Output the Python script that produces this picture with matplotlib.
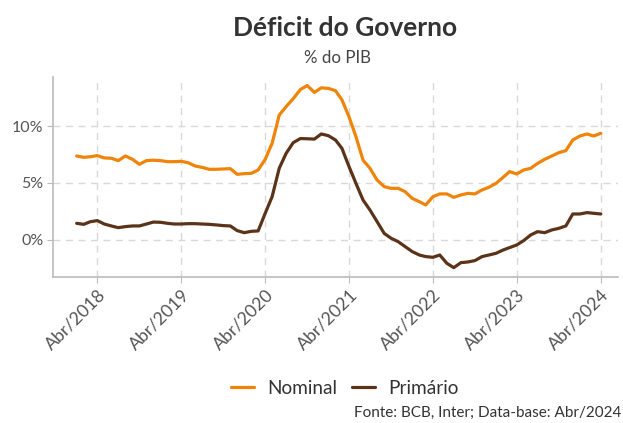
import matplotlib
matplotlib.use("Agg")
import matplotlib.pyplot as plt
import pandas as pd

plt.rcParams['font.family'] = ['Lato', 'DejaVu Sans']

months = pd.date_range("2018-01-01", "2024-04-01", freq="MS")

nominal = [7.37, 7.25, 7.30, 7.40, 7.20, 7.17, 6.96, 7.37, 7.08, 6.64, 6.96, 7.00,
           6.96, 6.87, 6.87, 6.90, 6.78, 6.49, 6.37, 6.20, 6.20, 6.23, 6.26, 5.76,
           5.82, 5.85, 6.14, 7.08, 8.48, 10.96, 11.70, 12.40, 13.20, 13.55, 12.95, 13.35,
           13.30, 13.10, 12.30, 10.80, 9.06, 7.00, 6.29, 5.26, 4.68, 4.53, 4.53, 4.24,
           3.65, 3.36, 3.07, 3.80, 4.04, 4.04, 3.74, 3.95, 4.09, 4.04, 4.39, 4.62,
           4.97, 5.50, 6.00, 5.79, 6.14, 6.29, 6.72, 7.08, 7.37, 7.66, 7.84, 8.77,
           9.12, 9.30, 9.12, 9.36]

primario = [1.46, 1.37, 1.60, 1.70, 1.40, 1.23, 1.08, 1.17, 1.23, 1.23, 1.40, 1.57,
            1.55, 1.46, 1.40, 1.40, 1.43, 1.43, 1.40, 1.37, 1.32, 1.26, 1.23, 0.82,
            0.64, 0.76, 0.79, 2.34, 3.80, 6.29, 7.60, 8.54, 8.90, 8.88, 8.85, 9.30,
            9.15, 8.77, 8.04, 6.43, 4.97, 3.50, 2.63, 1.61, 0.58, 0.15, -0.15, -0.58,
            -1.02, -1.32, -1.46, -1.52, -1.32, -2.05, -2.43, -1.99, -1.93, -1.81, -1.46, -1.32,
            -1.17, -0.88, -0.67, -0.44, -0.06, 0.44, 0.73, 0.64, 0.88, 1.02, 1.23, 2.28,
            2.28, 2.40, 2.34, 2.28]

tick_dates = pd.date_range("2018-04-01", "2024-04-01", freq="12MS")
tick_labels = ["Abr/2018", "Abr/2019", "Abr/2020", "Abr/2021", "Abr/2022", "Abr/2023", "Abr/2024"]
y_ticks = [0, 5, 10]
y_labels = ["0%", "5%", "10%"]

c_nom = "#F08409"
c_pri = "#5A3318"
gray = "#BBBBBB"

fig = plt.figure(figsize=(6.23, 4.23), dpi=100)
ax = fig.add_axes([53/623, 1-277/423, (618-53)/623, (277-77)/423])

ax.plot(months, nominal, color=c_nom, lw=2.3, label="Nominal", solid_capstyle="round")
ax.plot(months, primario, color=c_pri, lw=2.3, label="Primário", solid_capstyle="round")

ax.set_ylim(-3.25, 14.3)
ax.set_xlim(pd.Timestamp("2017-09-20"), pd.Timestamp("2024-06-15"))
ax.set_yticks(y_ticks)
ax.set_yticklabels(y_labels)
ax.set_xticks(tick_dates)
ax.set_xticklabels(tick_labels, rotation=45, ha="right", rotation_mode="anchor")

ax.grid(True, color="#D9D9D9", linestyle=(0, (5, 4)), linewidth=1.0)
ax.set_axisbelow(True)
for s in ["top", "right"]:
    ax.spines[s].set_visible(False)
for s in ["left", "bottom"]:
    ax.spines[s].set_color(gray)
    ax.spines[s].set_linewidth(1.2)
ax.tick_params(axis="y", length=4, color=gray, labelsize=11.5, labelcolor="#555555", pad=3)
ax.tick_params(axis="x", length=4, color=gray, labelsize=12.8, labelcolor="#555555", pad=3)

fig.text(345/623, 1-28/423, "Déficit do Governo", ha="center", va="center",
         fontsize=19, fontweight="bold", color="#333333")
fig.text(338/623, 1-58/423, "% do PIB", ha="center", va="center",
         fontsize=12.2, color="#444444")

fig.legend(loc="center", bbox_to_anchor=(345/623, 1-388/423), ncol=2, frameon=False,
           fontsize=13.7, handlelength=1.2, handletextpad=0.7, columnspacing=0.8,
           labelcolor="#333333")
fig.text(621/623, 1-413/423, "Fonte: BCB, Inter; Data-base: Abr/2024", ha="right",
         va="center", fontsize=11, color="#333333")

fig.savefig("out.png", dpi=100)
